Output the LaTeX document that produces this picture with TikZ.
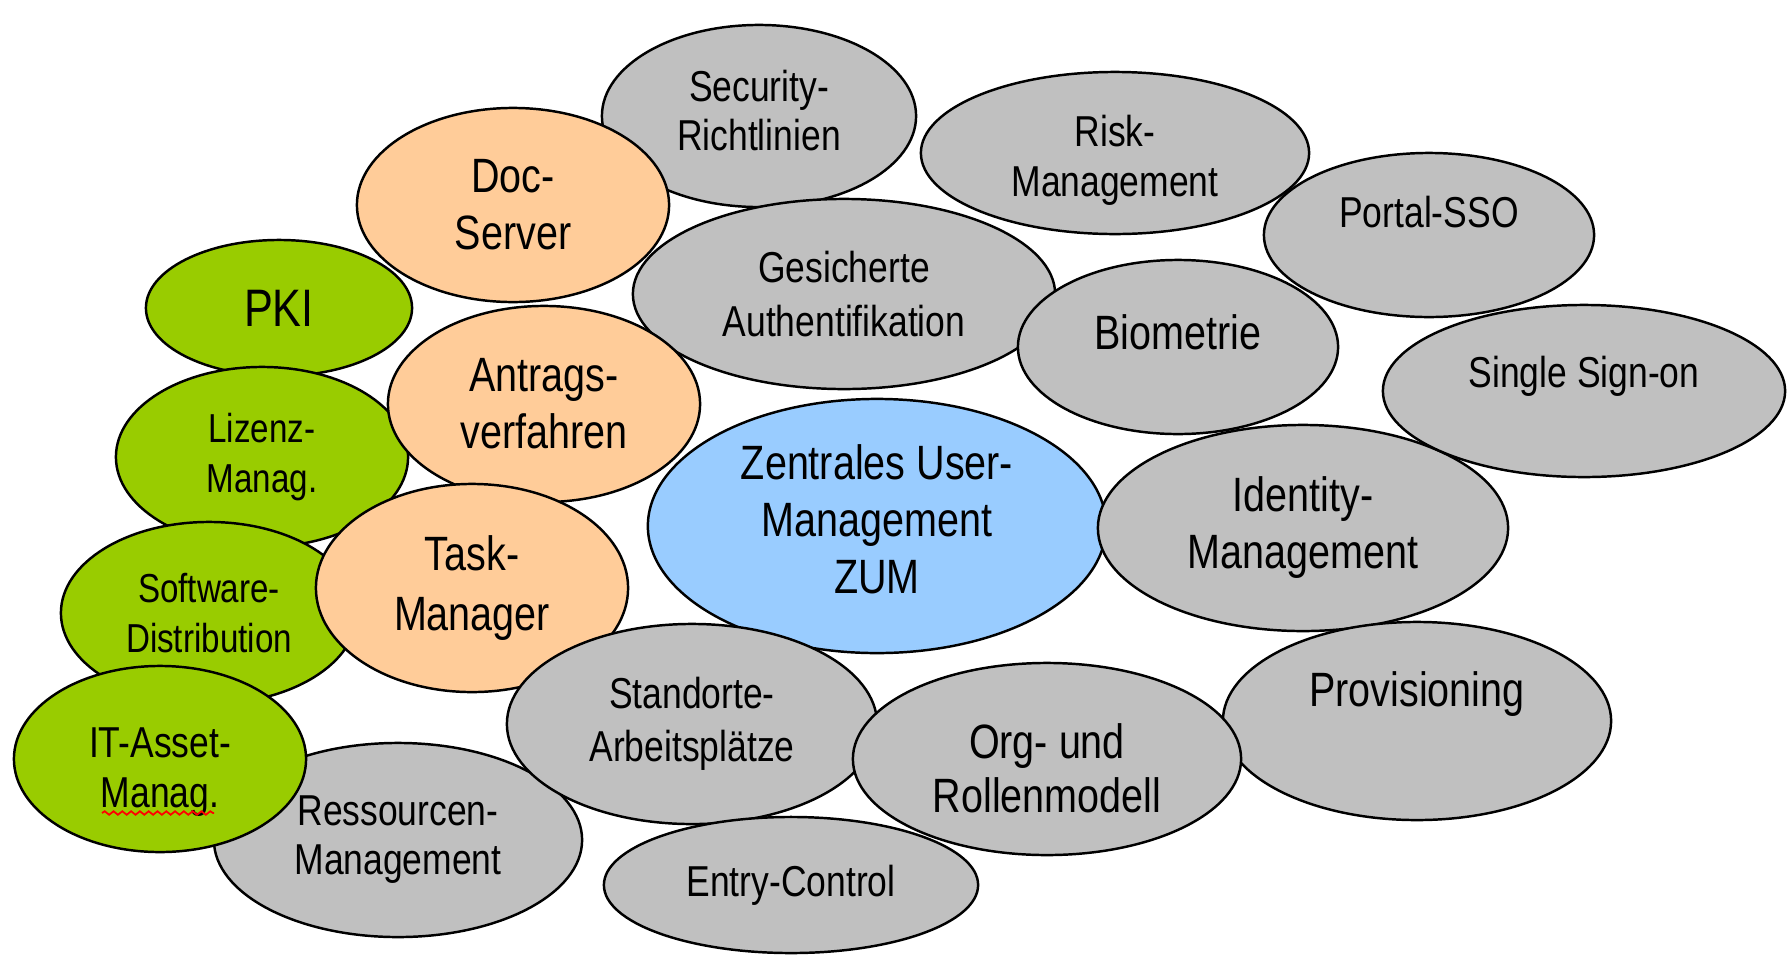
\documentclass[tikz,border=0pt]{standalone}
\usepackage{fontspec}
\setmainfont{Liberation Sans}[FakeStretch=0.82]
\usepackage{tikz}
\usetikzlibrary{shapes,decorations.pathmorphing}

\definecolor{ellgray}{HTML}{C0C0C0}
\definecolor{ellgreen}{HTML}{99CC00}
\definecolor{ellpeach}{HTML}{FFCC99}
\definecolor{ellblue}{HTML}{99CCFF}

\tikzset{
	bubble/.style={ellipse, draw, line width=0.7pt, inner sep=0pt, align=center,
		font=\fontsize{12.3}{13.9}\selectfont},
	bigtext/.style={font=\fontsize{13.7}{16.2}\selectfont},
	smalltext/.style={font=\fontsize{11.5}{14}\selectfont},
	widetext/.style={font=\fontsize{12.3}{15.2}\selectfont},
	captext/.style={align=center, inner sep=0pt},
	dims/.style 2 args={minimum width=#1cm, minimum height=#2cm},
}

\begin{document}
\begin{tikzpicture}[x=0.01cm, y=-0.01cm]
	\useasboundingbox (0,0) rectangle (1788,954);
	% back row
	\node (secu) at (759,116) [bubble, fill=ellgray, dims={3.14}{1.82},
		label={[captext, font=\fontsize{12.3}{13.9}\selectfont, yshift=1.6pt]center:{Security-\\Richtlinien}}] {};
	\node (risk) at (1115,153) [bubble, fill=ellgray, dims={3.88}{1.62},
		label={[captext, font=\fontsize{12.3}{14.2}\selectfont, yshift=-2pt]center:{Risk-\\Management}}] {};
	\node (portal) at (1429,235) [bubble, fill=ellgray, dims={3.30}{1.64},
		label={[captext, font=\fontsize{12.3}{13.9}\selectfont, yshift=6.5pt]center:Portal-SSO}] {};
	\node (doc) at (513,205) [bubble, bigtext, fill=ellpeach, dims={3.12}{1.94}] {Doc-\\Server};
	\node (gesi) at (844,294) [bubble, widetext, fill=ellgray, dims={4.22}{1.90}] {Gesicherte\\Authentifikation};
	\node (bio) at (1178,347) [bubble, fill=ellgray, dims={3.20}{1.74},
		label={[captext, font=\fontsize{13.7}{16.2}\selectfont, yshift=4.2pt]center:Biometrie}] {};
	\node (pki) at (279,308) [bubble, font=\fontsize{15}{17}\selectfont, fill=ellgreen, dims={2.66}{1.36}] {PKI};
	\node (lizenz) at (262,457) [bubble, smalltext, fill=ellgreen, dims={2.92}{1.80}] {Lizenz-\\Manag.};
	\node (antrag) at (544,404) [bubble, bigtext, fill=ellpeach, dims={3.12}{1.96}] {Antrags-\\verfahren};
	% middle
	\node (zum) at (877,526) [bubble, fill=ellblue, dims={4.58}{2.54},
		label={[captext, font=\fontsize{13.7}{16.2}\selectfont, yshift=2pt]center:{Zentrales User-\\Management\\ZUM}}] {};
	\node (ident) at (1303,528) [bubble, bigtext, fill=ellgray, dims={4.10}{2.06}] {Identity-\\Management};
	\node (sso) at (1584,391) [bubble, fill=ellgray, dims={4.02}{1.72},
		label={[captext, font=\fontsize{12.3}{13.9}\selectfont, yshift=4.2pt]center:Single Sign-on}] {};
	\node (prov) at (1417,721) [bubble, fill=ellgray, dims={3.88}{1.98},
		label={[captext, font=\fontsize{13.7}{16.2}\selectfont, yshift=7.8pt]center:Provisioning}] {};
	\node (soft) at (209,613) [bubble, smalltext, fill=ellgreen, dims={2.96}{1.82}] {Software-\\Distribution};
	\node (task) at (472,588) [bubble, font=\fontsize{13.7}{17}\selectfont, fill=ellpeach, dims={3.12}{2.08}] {Task-\\Manager};
	% front row
	\node (ress) at (398,840) [bubble, fill=ellgray, dims={3.68}{1.94}] {Ressourcen-\\Management};
	\node (asset) at (160,759) [bubble, fill=ellgreen, dims={2.92}{1.86},
		label={[captext, font=\fontsize{12.3}{14.4}\selectfont, yshift=-3.7pt]center:{IT-Asset-\\Manag.}}] {};
	\draw [red, line width=0.5pt, decorate, decoration={snake, amplitude=0.5pt, segment length=2.5pt}]
		([shift={(-58,54)}]asset.center) -- ([shift={(54,54)}]asset.center);
	\node (stand) at (692,724) [bubble, widetext, fill=ellgray, dims={3.70}{2.00}] {Standorte-\\Arbeitsplätze};
	\node (org) at (1047,759) [bubble, fill=ellgray, dims={3.88}{1.92},
		label={[captext, font=\fontsize{13.7}{15.5}\selectfont, yshift=-2.6pt]center:{Org- und\\Rollenmodell}}] {};
	\node (entry) at (791,885) [bubble, fill=ellgray, dims={3.74}{1.36}] {Entry-Control};
\end{tikzpicture}
\end{document}
